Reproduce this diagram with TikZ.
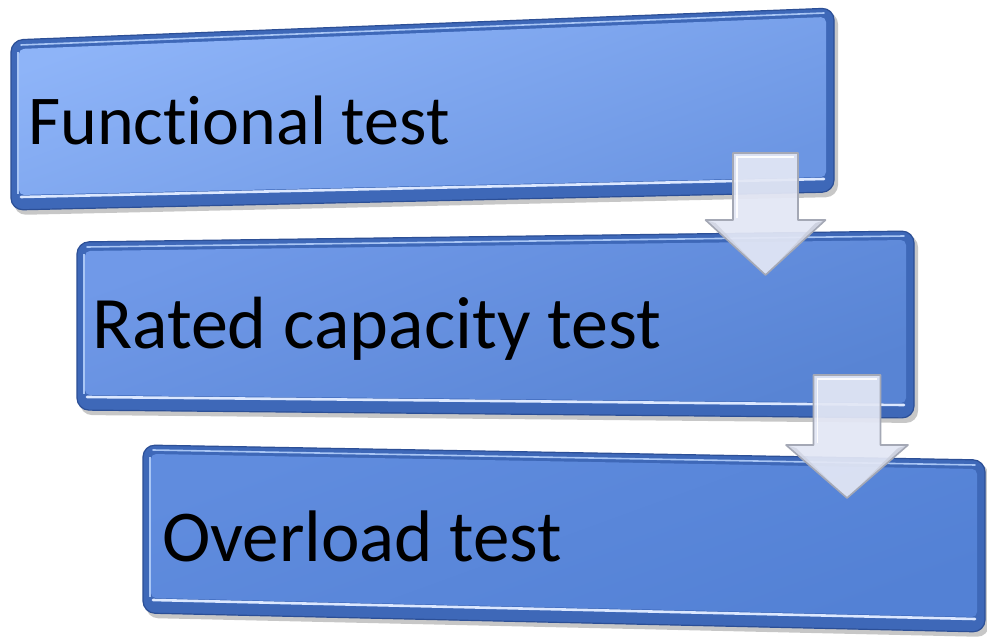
\documentclass[tikz,border=0pt]{standalone}
\usepackage{fontspec}
\setmainfont{Carlito}[RawFeature={-liga;-clig;-calt;-dlig}]
\definecolor{rimblue}{HTML}{3E68B8}
\definecolor{rimline}{HTML}{2C4F96}
\definecolor{hilite}{HTML}{DCE8FF}
\definecolor{tophi}{HTML}{A9C6F5}
\definecolor{aA}{HTML}{8EB4F8}
\definecolor{aB}{HTML}{6C96E3}
\definecolor{bA}{HTML}{7099E8}
\definecolor{bB}{HTML}{5884D4}
\definecolor{cA}{HTML}{608CDE}
\definecolor{cB}{HTML}{5381D5}
\definecolor{arrfill}{HTML}{E3E7F5}
\definecolor{arrline}{HTML}{A4A8B5}
\definecolor{arrdark}{HTML}{C9CDDB}
\newcommand\tbox[8]{%
  \fill[black,opacity=0.22,rounded corners=12] (#1+3,#2+4) -- (#4+4,#5+4) -- (#4+4,#6+5) -- (#1+3,#3+5) -- cycle;
  \fill[rimblue,rounded corners=12] (#1,#2) -- (#4,#5) -- (#4,#6) -- (#1,#3) -- cycle;
  \draw[rimline,line width=1.2,rounded corners=12] (#1,#2) -- (#4,#5) -- (#4,#6) -- (#1,#3) -- cycle;
  \shade[top color=#7,bottom color=#8,shading angle=20,rounded corners=5] (#1+8,#2+9) -- (#4-8,#5+9) -- (#4-8,#6-15) -- (#1+8,#3-15) -- cycle;
  \draw[tophi,line width=1.6,line cap=round] (#1+10,#2+5) -- (#4-10,#5+5);
  \draw[hilite,line width=2.6,line cap=round] (#1+10,#3-13) -- (#4-10,#6-13);
  \draw[tophi,line width=1.2] (#1+7,#2+12) -- (#1+7,#3-16);
}
\newcommand\darrow[6]{% cx, top, heady, tipy, halfshaft, halfhead
  \fill[arrfill,opacity=0.93] (#1-#5,#2) -- (#1+#5,#2) -- (#1+#5,#3) -- (#1+#6,#3) -- (#1,#4) -- (#1-#6,#3) -- (#1-#5,#3) -- cycle;
  \fill[arrdark,opacity=0.8] (#1+#6,#3) -- (#1,#4) -- (#1+#6-10,#3+3) -- cycle;
  \fill[arrdark,opacity=0.6] (#1-#6,#3) -- (#1,#4) -- (#1-#6+10,#3+3) -- cycle;
  \draw[white,line width=1.4,opacity=0.9] (#1-#5+4,#3-2) -- (#1-#5+4,#2+4) -- (#1+#5-4,#2+4);
  \draw[arrline,line width=1.6,line join=round] (#1-#5,#2) -- (#1+#5,#2) -- (#1+#5,#3) -- (#1+#6,#3) -- (#1,#4) -- (#1-#6,#3) -- (#1-#5,#3) -- cycle;
}
\tikzset{lbl/.style={anchor=base west,inner sep=0pt,text=black,font=\fontsize{74}{80}\selectfont}}
\begin{document}
\begin{tikzpicture}[x=1pt,y=-1pt]
\useasboundingbox (0,0) rectangle (987,644);
\fill[white] (0,0) rectangle (987,644);
\tbox{11}{40}{210}{834}{8}{192}{aA}{aB}
\tbox{77}{242}{410}{914}{231}{418}{bA}{bB}
\tbox{143}{445}{613}{985}{460}{632}{cA}{cB}
\node[lbl,font=\fontsize{70}{78}\selectfont] (t1) at (28,145) {Funct\kern0pt ional test};
\node[lbl] (t2) at (92,348) {Rated capacity test};
\node[lbl,font=\fontsize{73}{80}\selectfont] (t3) at (162,561) {Overload test};
\darrow{765.5}{153}{220}{275}{32.5}{60}
\darrow{847}{375}{445}{498}{33.5}{61}
\end{tikzpicture}
\end{document}
